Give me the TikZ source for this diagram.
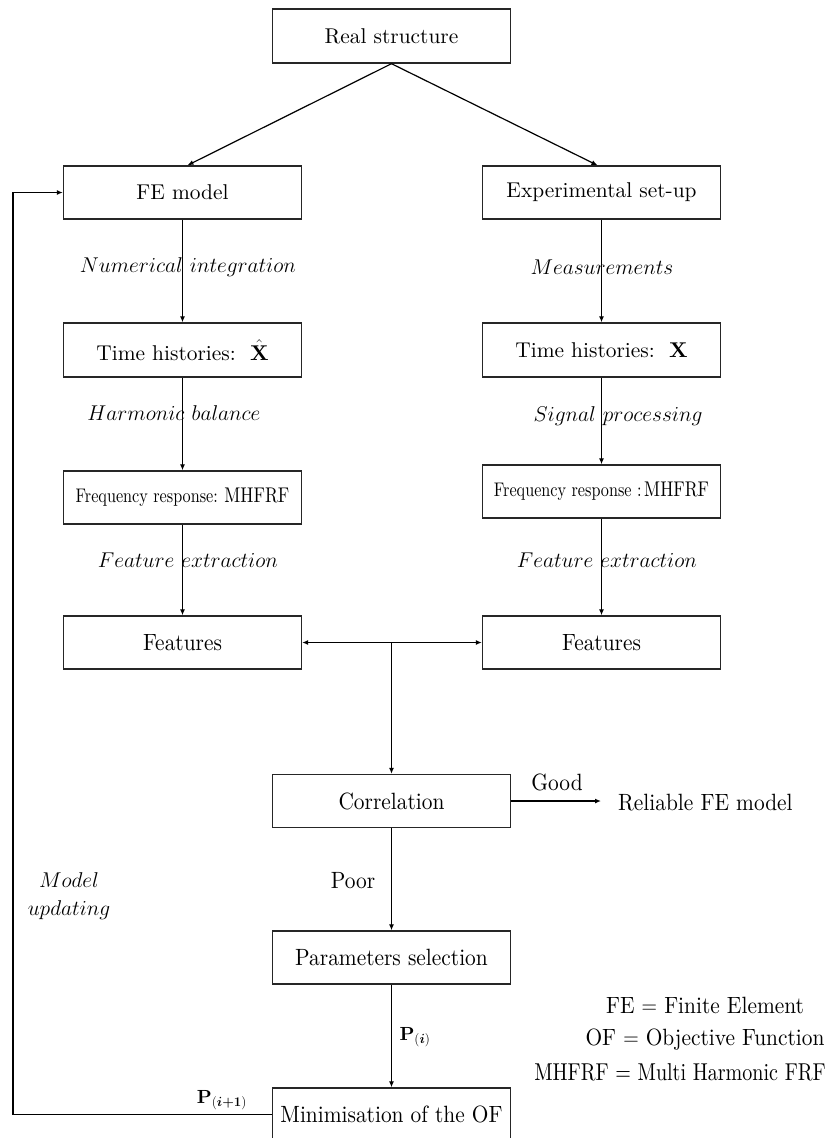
\RequirePackage{fix-cm}
\documentclass[tikz,border=0pt]{standalone}
\usepackage{amsmath}
\usepackage{fontspec}
\usepackage{graphicx}
\IfFontExistsTF{lmroman10-regular.otf}{%
  \setmainfont{lmroman10-regular.otf}[BoldFont=lmroman10-bold.otf, ItalicFont=lmroman10-italic.otf]}{}
\usetikzlibrary{arrows.meta}
\tikzset{
  box/.style={draw=black!85, line width=1.4pt, minimum width=238pt, minimum height=53pt, inner sep=0pt,
    font=\fontsize{21.4}{26}\selectfont},
  arr/.style={draw=black, line width=1.2pt, -{Latex[length=6pt,width=5pt]}},
  lab/.style={inner sep=0pt, font=\fontsize{21.4}{26}\selectfont},
  tall/.style={inner sep=0pt, font=\fontsize{21.4}{26}\selectfont}
}
\newcommand{\tl}[1]{\scalebox{1}[1.1]{#1}}
\newcommand{\nar}[1]{\scalebox{0.92}[1.12]{#1}}
\begin{document}
\begin{tikzpicture}[x=1pt,y=-1pt]
\useasboundingbox (0,0) rectangle (828,1138);
% boxes
\node[box, minimum height=54pt] (real) at (391.5,36) {Real structure};
\node[box] (fe) at (182.5,192.5) {FE model};
\node[box] (exp) at (601.5,192.5) {Experimental set-up};
\node[box, minimum height=54pt] (thl) at (182.5,350) {Time histories:\ \ $\hat{\mathbf{X}}$};
\node[box, minimum height=54pt] (thr) at (601.5,350) {Time histories:\ \ $\mathbf{X}$};
\node[box] (frl) at (182.5,497.5) {\nar{{\fontsize{17.6}{22}\selectfont Frequency response:}\ {\fontsize{19}{22}\selectfont MHFRF}}};
\node[box] (frr) at (601.5,491.5) {\nar{{\fontsize{17.6}{22}\selectfont Frequency response :\,}{\fontsize{19}{22}\selectfont MHFRF}}};
\node[box] (fel) at (182.5,642.5) {\tl{Features}};
\node[box] (fer) at (601.5,642.5) {\tl{Features}};
\node[box] (corr) at (391.5,801) {\tl{Correlation}};
\node[box] (par) at (391.5,957.5) {\tl{Parameters selection}};
\node[box] (min) at (391.5,1114.5) {\tl{Minimisation of the OF}};

% labels
\node[lab] (l1) at (188,267) {$Numerical\ integration$};
\node[lab] (l2) at (602,267) {$Measurements$};
\node[lab] (l3) at (174,413) {$Harmonic\ balance$};
\node[lab] (l4) at (618,416) {$Signal\ processing$};
\node[lab] (l5) at (188,560) {$Feature\ extraction$};
\node[lab] (l6) at (607,560) {$Feature\ extraction$};
\node[lab, align=center] (mu) at (69,896) {$Model$\\[2pt]$updating$};
\node[tall] (good) at (557,782) {\tl{Good}};
\node[tall, anchor=west] (rel) at (618,803) {\tl{Reliable FE model}};
\node[tall] (poor) at (353,881) {\tl{Poor}};
\node[lab, font=\fontsize{19}{22}\selectfont] (pi) at (415,1037) {$\mathbf{P}_{(\boldsymbol{i})}$};
\node[lab, font=\fontsize{19}{22}\selectfont] (pi1) at (222,1100) {$\mathbf{P}_{(\boldsymbol{i+1})}$};
\node[tall] (lg1) at (705,1005) {\tl{FE $=$ Finite Element}};
\node[tall] (lg2) at (705,1040) {\tl{OF $=$ Objective Function}};
\node[tall] (lg3) at (680,1072) {\nar{\fontsize{21.8}{26}\selectfont MHFRF = Multi Harmonic FRF}};

% connectors
\draw[arr] (real.south) -- ([xshift=5pt]fe.north);
\draw[arr] (real.south) -- ([xshift=-4pt]exp.north);
\draw[arr] (fe) -- (thl);
\draw[arr] (exp) -- (thr);
\draw[arr] (thl) -- (frl);
\draw[arr] (thr) -- (frr);
\draw[arr] (frl) -- (fel);
\draw[arr] (frr) -- (fer);
\coordinate (j) at (391.5,642.5);
\draw[arr] (j) -- (fel.east);
\draw[arr] (j) -- (fer.west);
\draw[arr] (j) -- (corr.north);
\draw[arr, shorten >=17pt] (corr.east) -- (corr.east -| rel.west);
\draw[arr] (corr) -- (par);
\draw[arr] (par) -- (min);
\coordinate (lx) at (13,0);
\draw[arr] (min.west) -- (min.west -| lx) -- (fe.west -| lx) -- (fe.west);
\end{tikzpicture}
\end{document}
